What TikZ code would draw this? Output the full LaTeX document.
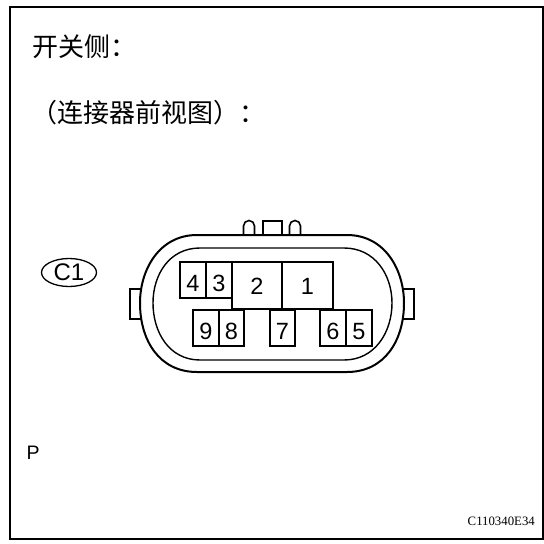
\documentclass[tikz,border=0pt]{standalone}
\usepackage{fontspec}
\usetikzlibrary{shapes.geometric}
\setmainfont{Liberation Sans}
\newfontfamily\cjk{Noto Sans CJK SC}
\newfontfamily\codefont{Liberation Serif}
\tikzset{
	pin/.style={draw, line width=1.1pt, inner sep=0pt, text depth=0pt, text height=23pt, font=\fontsize{23.5}{24}\selectfont},
	bigpin/.style={pin, text height=18pt, minimum height=47pt},
	title/.style={anchor=west, inner sep=0pt, font=\cjk\fontsize{26}{26}\selectfont},
}
\begin{document}
\begin{tikzpicture}[x=1pt,y=-1pt]
	\useasboundingbox (0,0) rectangle (544,544);
	% Frame
	\draw [line width=2pt] (10,7) rectangle (543,539);
	% Texts
	\node[title] (side) at (32,47) {开关侧：};
	\node[title] (view) at (31,113) {（连接器前视图）：};
	\node[anchor=west, inner sep=0pt, font=\fontsize{19.5}{20}\selectfont] (letter) at (26.5,453) {P};
	\node[anchor=east, inner sep=0pt, font=\codefont\fontsize{12.8}{13}\selectfont] (code) at (535,521) {C110340E34};
	\node[draw, ellipse, line width=1.3pt, minimum width=55pt, minimum height=28pt, inner sep=0pt, font=\fontsize{24}{24}\selectfont] (c1) at (69,272.5) {C1};
	% Shell
	\draw [line width=1.8pt, fill=white] (130,289) rectangle (141,319);
	\draw [line width=1.8pt, fill=white] (403,289) rectangle (414,319);
	\draw [line width=2pt, fill=white] (197,235) -- (347,235) .. controls (385,235) and (404,270) .. (404,303) .. controls (404,340) and (385,372) .. (347,372) -- (197,372) .. controls (159,372) and (140,340) .. (140,303) .. controls (140,270) and (159,235) .. (197,235) -- cycle;
	\draw [line width=1.4pt] (200,248) -- (344,248) .. controls (375,248) and (392,275) .. (392,303) .. controls (392,332) and (375,360) .. (344,360) -- (200,360) .. controls (169,360) and (153,332) .. (153,303) .. controls (153,275) and (169,248) .. (200,248) -- cycle;
	% Latch
	\draw [line width=1.6pt] (243.5,234) -- (243.5,226) arc (180:360:5.5) -- (254.5,234);
	\draw [line width=1.6pt] (263,234) -- (263,221) -- (282,221) -- (282,234);
	\draw [line width=1.6pt] (289.5,234) -- (289.5,226) arc (180:360:5.5) -- (300.5,234);
	% Pins
	\node[pin, minimum width=26pt, minimum height=36pt] (p4) at (193,280) {4};
	\node[pin, minimum width=26pt, minimum height=36pt] (p3) at (219,280) {3};
	\node[bigpin, minimum width=50pt] (p2) at (257,285.5) {2};
	\node[bigpin, minimum width=51pt] (p1) at (307.5,285.5) {1};
	\node[pin, minimum width=26pt, minimum height=36pt] (p9) at (206,328) {9};
	\node[pin, minimum width=25pt, minimum height=36pt] (p8) at (231.5,328) {8};
	\node[pin, minimum width=25pt, minimum height=36pt] (p7) at (282.5,328) {7};
	\node[pin, minimum width=26pt, minimum height=36pt] (p6) at (333,328) {6};
	\node[pin, minimum width=26pt, minimum height=36pt] (p5) at (359,328) {5};
\end{tikzpicture}
\end{document}
